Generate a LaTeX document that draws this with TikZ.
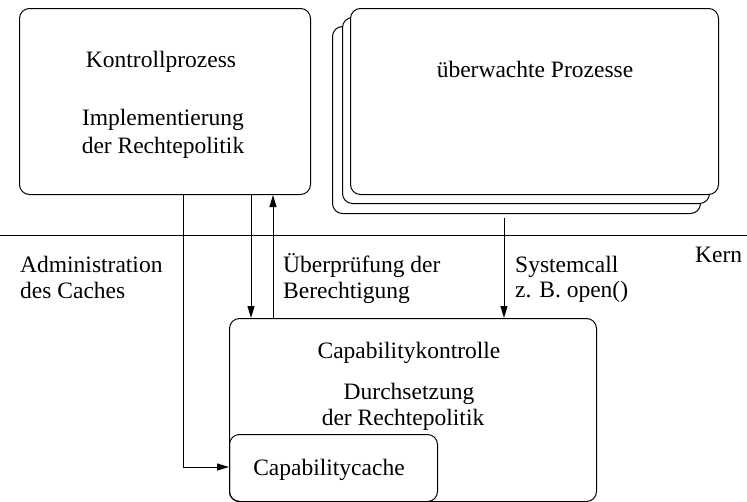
\documentclass[tikz,border=0pt]{standalone}
\usepackage{fontspec}
\setmainfont{Liberation Serif}
\usetikzlibrary{arrows.meta}
\begin{document}
\begin{tikzpicture}[x=1pt,y=-1pt,
  box/.style={draw,line width=1pt,rounded corners=10pt},
  lbl/.style={inner sep=0pt,font=\fontsize{23.5}{26}\selectfont},
  conn/.style={line width=1pt},
  arr/.style={line width=1pt,-{Triangle[length=12pt,width=7pt]}}]
\useasboundingbox (0,0) rectangle (747,501);
% boxes
\node[box,minimum width=291pt,minimum height=186pt,anchor=north west] (kp) at (19,8) {};
\node[box,fill=white,minimum width=368pt,minimum height=187pt,anchor=north west] (ub3) at (332,26) {};
\node[box,fill=white,minimum width=367pt,minimum height=186pt,anchor=north west] (ub2) at (342,17) {};
\node[box,fill=white,minimum width=368pt,minimum height=186pt,anchor=north west] (ub1) at (350,8) {};
\node[box,minimum width=367pt,minimum height=183pt,anchor=north west] (ck) at (229,318) {};
\node[box,minimum width=208pt,minimum height=67pt,anchor=north west] (cc) at (229,434) {};
% kernel line
\coordinate (kl) at (0,235);
\coordinate (kr) at (747,235);
\draw[line width=1pt] (kl) -- (kr);
% texts
\node[lbl,anchor=base] (t1) at (161,67) {Kontrollprozess};
\node[lbl,anchor=base] (t2) at (163,125) {Implementierung};
\node[lbl,anchor=base] (t3) at (163,153) {der Rechtepolitik};
\node[lbl,anchor=base] (t4) at (535,77) {überwachte Prozesse};
\node[lbl,anchor=base west] (t5) at (20,272) {Administration};
\node[lbl,anchor=base west] (t6) at (20,298) {des Caches};
\node[lbl,anchor=base west] (t7) at (283,272) {Überprüfung der};
\node[lbl,anchor=base west] (t8) at (283,298) {Berechtigung};
\node[lbl,anchor=base west] (t9) at (515,272) {Systemcall};
\node[lbl,anchor=base west] (t10) at (515,297) {z. B. open()};
\node[lbl,anchor=base west] (t11) at (695,262) {Kern};
\node[lbl,anchor=base] (t12) at (409,358) {Capabilitykontrolle};
\node[lbl,anchor=base] (t13) at (409,399) {Durchsetzung};
\node[lbl,anchor=base] (t14) at (403,425) {der Rechtepolitik};
\node[lbl,anchor=base] (t15) at (329,475) {Capabilitycache};
% connectors
\coordinate (a1) at (183,194);
\coordinate (a2) at (183,467);
\draw[arr] (kp.south west -| a1) -- (a2) -- (a2 -| cc.west);
\coordinate (b1) at (251,194);
\draw[arr] (kp.south -| b1) -- (ck.north -| b1);
\coordinate (c1) at (273,194);
\draw[arr] (ck.north -| c1) -- (kp.south -| c1);
\coordinate (d1) at (504,218);
\draw[arr] (d1) -- (ck.north -| d1);
\end{tikzpicture}
\end{document}
